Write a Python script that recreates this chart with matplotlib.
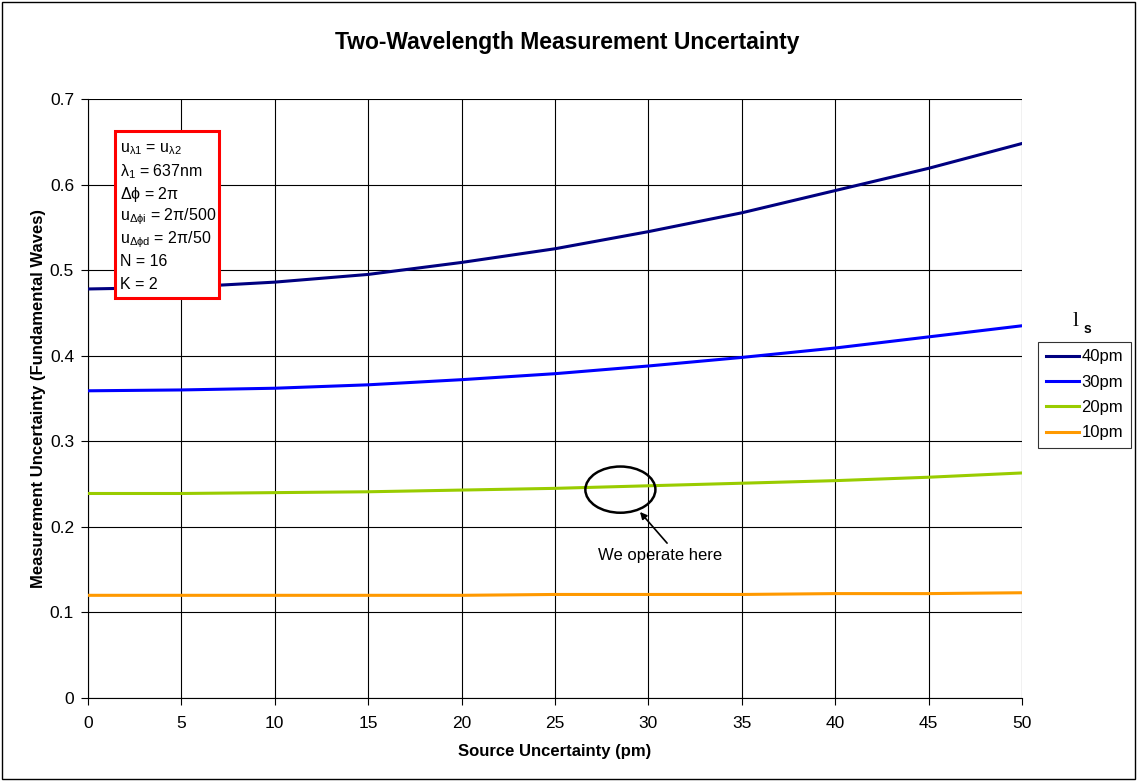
import matplotlib
matplotlib.use("Agg")
import matplotlib.pyplot as plt
from matplotlib.patches import Ellipse, Rectangle

plt.rcParams['font.family'] = ['Liberation Sans', 'DejaVu Sans']
plt.rcParams['mathtext.fontset'] = 'custom'
plt.rcParams['mathtext.rm'] = 'Liberation Sans'
plt.rcParams['mathtext.it'] = 'Liberation Sans'

# Source uncertainty (pm)
source_unc = [0, 5, 10, 15, 20, 25, 30, 35, 40, 45, 50]

# Measurement uncertainty (fundamental waves) per source linewidth
u_40pm = [0.478, 0.480, 0.486, 0.495, 0.509, 0.525, 0.545, 0.567, 0.593, 0.619, 0.648]
u_30pm = [0.359, 0.360, 0.362, 0.366, 0.372, 0.379, 0.388, 0.398, 0.409, 0.422, 0.435]
u_20pm = [0.239, 0.239, 0.240, 0.241, 0.243, 0.245, 0.248, 0.251, 0.254, 0.258, 0.263]
u_10pm = [0.120, 0.120, 0.120, 0.120, 0.120, 0.121, 0.121, 0.121, 0.122, 0.122, 0.123]

series_labels = ["40pm", "30pm", "20pm", "10pm"]
series_colors = ["#000080", "#0000FF", "#99CC00", "#FF9900"]

x_ticks = [0, 5, 10, 15, 20, 25, 30, 35, 40, 45, 50]
y_ticks = [0, 0.1, 0.2, 0.3, 0.4, 0.5, 0.6, 0.7]
y_tick_labels = ["0", "0.1", "0.2", "0.3", "0.4", "0.5", "0.6", "0.7"]

W, H = 1137, 781
fig = plt.figure(figsize=(W / 100, H / 100), dpi=100)
ax = fig.add_axes([88 / W, 1 - 698 / H, (1022 - 88) / W, (698 - 99) / H])

# outer chart border
fig.patches.append(Rectangle((2 / W, 2 / H), (W - 4) / W, (H - 4) / H,
                             transform=fig.transFigure, fill=False,
                             edgecolor='black', linewidth=1.0))

for vals, lab, col in zip([u_40pm, u_30pm, u_20pm, u_10pm], series_labels, series_colors):
    ax.plot(source_unc, vals, color=col, linewidth=2.2, label=lab, zorder=3)

ax.set_xlim(0, 50)
ax.set_ylim(0, 0.7)
ax.set_xticks(x_ticks)
ax.set_yticks(y_ticks)
ax.set_yticklabels(y_tick_labels)
ax.tick_params(direction='out', length=5, width=0.8, labelsize=12.5)
ax.tick_params(axis='x', pad=8)
ax.tick_params(axis='y', pad=5)
ax.grid(True, color='black', linewidth=0.8, zorder=0)
ax.set_axisbelow(True)
for s in ['top', 'right']:
    ax.spines[s].set_visible(False)
for s in ['left', 'bottom']:
    ax.spines[s].set_linewidth(0.8)

ax.set_xlabel("Source Uncertainty (pm)", fontsize=12, fontweight='bold', labelpad=9)
ax.set_ylabel("Measurement Uncertainty (Fundamental Waves)", fontsize=12,
              fontweight='bold', labelpad=3)
fig.text(567 / W, 1 - 42 / H, "Two-Wavelength Measurement Uncertainty",
         ha='center', va='center', fontsize=16.5, fontweight='bold')

# parameter box
box_lines = [
    r"u$_{\lambda1}$ = u$_{\lambda2}$",
    r"$\lambda_1$ = 637nm",
    r"$\Delta\phi$ = 2$\pi$",
    r"u$_{\Delta\phi i}$ = 2$\pi$/500",
    r"u$_{\Delta\phi d}$ = 2$\pi$/50",
    "N = 16",
    "K = 2",
]
fig.patches.append(Rectangle((115 / W, 1 - 298 / H), (219 - 115) / W, (298 - 131) / H,
                             transform=fig.transFigure, facecolor='white',
                             edgecolor='#FF0000', linewidth=2.2, zorder=5))
for i, line in enumerate(box_lines):
    fig.text(120 / W, 1 - (149 + i * 22.6) / H, line, ha='left', va='center',
             fontsize=11.5, zorder=6)

# legend
leg = ax.legend(loc='upper left', bbox_to_anchor=(1038 / W, 1 - 342 / H),
                bbox_transform=fig.transFigure, frameon=True, fancybox=False,
                edgecolor='black', fontsize=12, handlelength=2.0,
                handletextpad=0.15, labelspacing=0.62, borderpad=0.45,
                borderaxespad=0)
leg.get_frame().set_linewidth(0.8)
fig.text(1079 / W, 1 - 322 / H, "l", family='Liberation Serif', fontsize=16,
         ha='right', va='center')
fig.text(1084 / W, 1 - 329 / H, "s", fontsize=10, fontweight='bold',
         ha='left', va='center')

# operating point
ax.add_patch(Ellipse((28.5, 0.2435), 3.75, 0.054, fill=False, edgecolor='black',
                     linewidth=1.8, zorder=4))
ax.text(30.6, 0.166, "We operate here", ha='center', va='center', fontsize=12)
ax.annotate("", xy=(29.55, 0.2174), xytext=(31.0, 0.181),
            arrowprops=dict(arrowstyle='-|>', color='black', lw=1.2,
                            shrinkA=0, shrinkB=0, mutation_scale=10))

fig.savefig("out.png", dpi=100)
